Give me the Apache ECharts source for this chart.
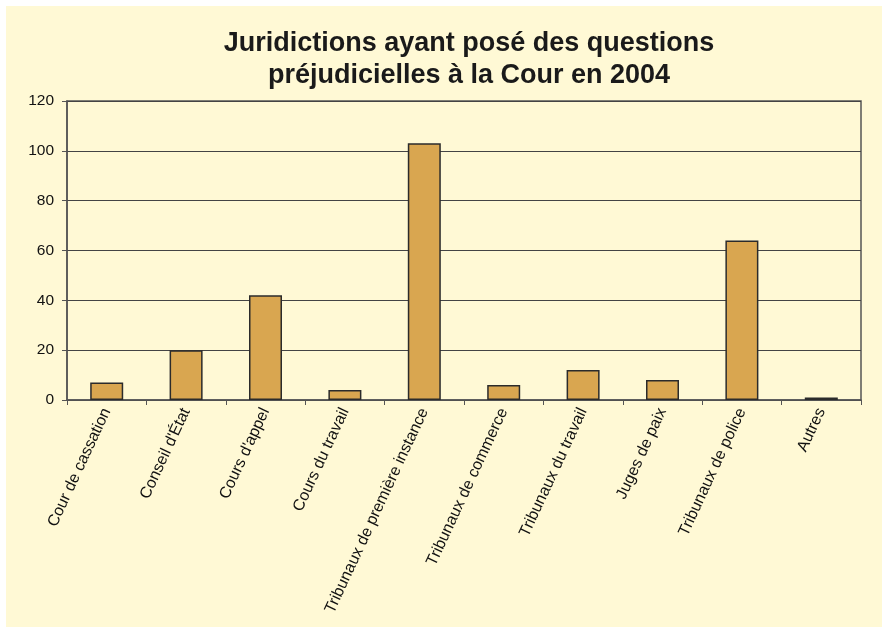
<!DOCTYPE html>
<html>
<head>
<meta charset="utf-8">
<script src="https://cdn.jsdelivr.net/npm/echarts@6/dist/echarts.min.js"></script>
<style>
html,body{margin:0;padding:0;background:#ffffff;}
#chart{width:882px;height:627px;}
</style>
</head>
<body>
<div id="chart"></div>
<script>
const titleText = "Juridictions ayant posé des questions\npréjudicielles à la Cour en 2004";
const categories = ["Cour de cassation", "Conseil d'État", "Cours d'appel", "Cours du travail", "Tribunaux de première instance", "Tribunaux de commerce", "Tribunaux du travail", "Juges de paix", "Tribunaux de police", "Autres"];
const values = [7, 20, 42, 4, 103, 6, 12, 8, 64, 1];
const yTicks = [0, 20, 40, 60, 80, 100, 120];

const chart = echarts.init(document.getElementById('chart'), null, {renderer: 'canvas'});
const font = "'Liberation Sans', Arial, Helvetica, sans-serif";
chart.setOption({
  animation: false,
  backgroundColor: 'transparent',
  graphic: [{
    type: 'rect', z: -10, silent: true,
    shape: {x: 6, y: 6, width: 876, height: 621},
    style: {fill: '#FFF9D5'}
  }],
  title: {
    text: titleText,
    left: 464, top: 23, textAlign: 'center',
    textStyle: {fontFamily: font, fontWeight: 'bold', fontSize: 27, color: '#1a1a1a', lineHeight: 32}
  },
  grid: {
    left: 67, top: 101, right: 21, bottom: 227,
    show: true, borderColor: '#555', borderWidth: 1.5, backgroundColor: 'transparent'
  },
  xAxis: {
    type: 'category',
    data: categories,
    axisLine: {show: true, lineStyle: {color: '#555', width: 1.5}},
    axisTick: {show: true, length: 5, lineStyle: {color: '#555'}},
    axisLabel: {interval: 0, rotate: 65, fontFamily: font, fontSize: 16, color: '#111', margin: 9}
  },
  yAxis: {
    type: 'value', min: yTicks[0], max: yTicks[yTicks.length - 1], interval: 20,
    axisLine: {show: true, lineStyle: {color: '#555', width: 1.5}},
    axisTick: {show: true, length: 5, lineStyle: {color: '#555'}},
    axisLabel: {fontFamily: font, fontSize: 15.5, color: '#111', margin: 13},
    splitLine: {show: true, lineStyle: {color: '#444', width: 1}}
  },
  series: [{
    type: 'bar',
    data: values,
    barWidth: 33,
    itemStyle: {color: '#D9A650', borderColor: '#2b2b2b', borderWidth: 1.5}
  }]
});
</script>
</body>
</html>
